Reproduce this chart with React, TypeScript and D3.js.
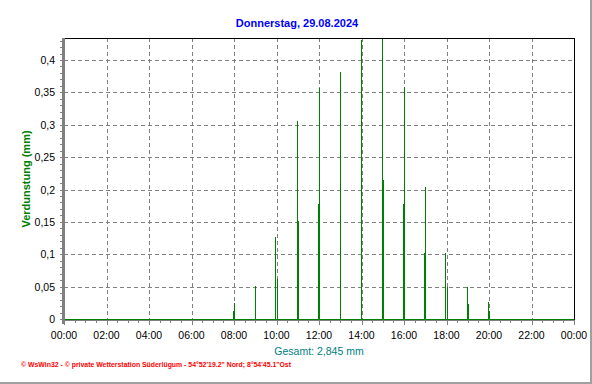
import React from "react";
import * as d3 from "d3";

// ---- data ----
const times: string[] = [
  "07:58:30", "08:01:30",
  "09:00:00",
  "09:58:30", "10:01:30",
  "10:58:30", "11:01:30",
  "11:58:30", "12:01:30",
  "13:00:00",
  "14:00:00",
  "14:58:30", "15:01:30",
  "15:58:30", "16:01:30",
  "16:58:30", "17:01:30",
  "17:58:30", "18:01:30",
  "18:58:30", "19:01:30",
  "19:58:30", "20:01:30",
];
const values: number[] = [
  0.012, 0.024,
  0.051,
  0.127, 0.062,
  0.306, 0.151,
  0.178, 0.357,
  0.381,
  0.431,
  0.45, 0.215,
  0.178, 0.358,
  0.102, 0.204,
  0.102, 0.05,
  0.049, 0.023,
  0.026, 0.012,
];
const yTicks: number[] = [0, 0.05, 0.1, 0.15, 0.2, 0.25, 0.3, 0.35, 0.4];
const xTickHours: number[] = [0, 2, 4, 6, 8, 10, 12, 14, 16, 18, 20, 22, 24];
const title = "Donnerstag, 29.08.2024";
const yLabel = "Verdunstung  (mm)";
const totalLabel = "Gesamt: 2,845 mm";
const footer = "\u00A9 WsWin32  -  \u00A9 private Wetterstation S\u00FCderl\u00FCgum  -  54\u00B052'19.2\" Nord; 8\u00B054'45.1\"Ost";

const W = 592;
const H = 384;
const left = 64;
const right = 574;
const top = 38;
const bottom = 319;
const FONT = "'Liberation Sans', Arial, sans-serif";

function toHours(t: string): number {
  const [h, m, s] = t.split(":").map(Number);
  return h + m / 60 + (s || 0) / 3600;
}

export default function App() {
  const x = d3.scaleLinear().domain([0, 24]).range([left, right]);
  const y = d3.scaleLinear().domain([0, 0.434]).range([bottom, top]);

  const minorY = d3.range(0, 0.4301, 0.01);
  const minorX = d3.range(0, 24.001, 0.5);
  const fmtY = (v: number) => (v === 0 ? "0" : d3.format(".2~f")(v).replace(".", ","));
  const fmtX = (h: number) => `${String(h % 24 === 0 ? 0 : h).padStart(2, "0")}:00`;

  return (
    <svg
      width={W}
      height={H}
      style={{ position: "absolute", left: 0, top: 0, background: "#fff" }}
      fontFamily={FONT}
    >
      <defs>
        <clipPath id="plot">
          <rect x={left} y={top} width={right - left} height={bottom - top + 1} />
        </clipPath>
      </defs>
      <rect x={0} y={0} width={W} height={H} fill="#fff" />
      {/* outer frame edges */}
      <rect x={590} y={0} width={2} height={H} fill="#a0a0a0" />
      <rect x={0} y={382} width={W} height={2} fill="#a0a0a0" />

      {/* title */}
      <text x={297} y={27} textAnchor="middle" fill="#0000ff" fontWeight="bold" fontSize={11}>
        {title}
      </text>

      {/* grid */}
      <g stroke="#808080" strokeWidth={1} strokeDasharray="4,3" shapeRendering="crispEdges">
        {yTicks.filter((v) => v > 0).map((v) => (
          <line key={"gy" + v} x1={left} x2={right} y1={Math.round(y(v)) + 0.5} y2={Math.round(y(v)) + 0.5} />
        ))}
        {xTickHours.filter((h) => h > 0 && h < 24).map((h) => (
          <line key={"gx" + h} x1={Math.round(x(h)) + 0.5} x2={Math.round(x(h)) + 0.5} y1={top} y2={bottom} />
        ))}
      </g>

      {/* bars */}
      <g clipPath="url(#plot)" shapeRendering="crispEdges">
        {times.map((t, i) => {
          const px = Math.round(x(toHours(t)) - 0.5);
          const py = y(values[i]);
          return <rect key={t} x={px} y={py} width={1} height={bottom + 1 - py} fill="#008000" />;
        })}
      </g>

      {/* frame top/right */}
      <g stroke="#000" strokeWidth={1} shapeRendering="crispEdges">
        <line x1={left} x2={right + 1} y1={top + 0.5} y2={top + 0.5} />
        <line x1={right + 0.5} x2={right + 0.5} y1={top} y2={bottom + 1} />
      </g>

      {/* x axis */}
      <line x1={left} x2={right + 1} y1={bottom + 1.5} y2={bottom + 1.5} stroke="#808080" shapeRendering="crispEdges" />
      <g stroke="#808080" shapeRendering="crispEdges">
        {minorX.map((h) => {
          const major = Math.abs(h / 2 - Math.round(h / 2)) < 1e-6;
          const xx = Math.round(x(h)) + 0.5;
          return <line key={"tx" + h} x1={xx} x2={xx} y1={bottom + 1} y2={bottom + (major ? 6 : 4)} />;
        })}
      </g>
      <line x1={left} x2={right} y1={bottom + 0.5} y2={bottom + 0.5} stroke="#008000" shapeRendering="crispEdges" />
      <g fontSize={10.5} fill="#000" textAnchor="middle">
        {xTickHours.map((h) => (
          <text key={"lx" + h} x={x(h)} y={339}>
            {fmtX(h)}
          </text>
        ))}
      </g>

      {/* y axis */}
      <rect x={62} y={top} width={3} height={bottom - top + 5} fill="#808080" />
      <g stroke="#808080" shapeRendering="crispEdges">
        {minorY.map((v) => (
          <line key={"ty" + v} x1={60} x2={62} y1={Math.round(y(v)) + 0.5} y2={Math.round(y(v)) + 0.5} />
        ))}
      </g>
      <g fontSize={10.5} fill="#000" textAnchor="end">
        {yTicks.map((v) => (
          <text key={"ly" + v} x={55} y={y(v) + 4}>
            {fmtY(v)}
          </text>
        ))}
      </g>

      {/* axis titles */}
      <text
        transform="translate(30,179) rotate(-90)"
        textAnchor="middle"
        fill="#008000"
        fontWeight="bold"
        fontSize={11}
      >
        {yLabel}
      </text>
      <text x={319} y={355} textAnchor="middle" fill="#008080" fontSize={10.5}>
        {totalLabel}
      </text>

      {/* footer */}
      <text
        x={21}
        y={367}
        fill="#ff0000"
        fontWeight="bold"
        fontSize={6.5}
        textLength={270}
        lengthAdjust="spacingAndGlyphs"
      >
        {footer}
      </text>
    </svg>
  );
}
